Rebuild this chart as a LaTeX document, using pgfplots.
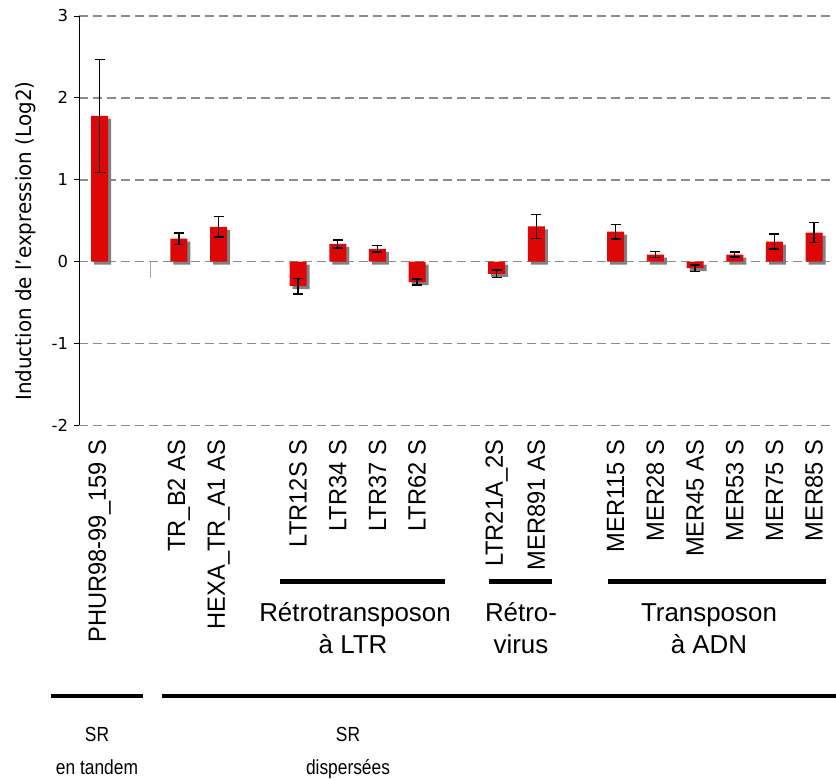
\documentclass[border=0pt]{standalone}
\usepackage{pgfplots}
\usepackage{pgfplotstable}
\pgfplotsset{compat=1.18}
\usepackage{fontspec}
\setmainfont{Liberation Sans}
\newfontfamily\dejavu{DejaVu Sans}
\newfontfamily\dejavucond[FakeStretch=0.95]{DejaVu Sans}
\newfontfamily\lbcond[FakeStretch=0.95]{Liberation Sans}
\newfontfamily\lbbot[FakeStretch=0.85]{Liberation Sans}
\definecolor{barred}{RGB}{222,6,6}
\definecolor{shadowgray}{RGB}{128,128,128}
\definecolor{gridgray}{RGB}{140,140,140}

\pgfplotstableread{
x y e
0 1.78 0.69
2 0.28 0.07
3 0.425 0.125
5 -0.30 0.095
6 0.215 0.05
7 0.155 0.04
8 -0.25 0.035
10 -0.15 0.045
11 0.43 0.145
13 0.365 0.09
14 0.085 0.035
15 -0.08 0.04
16 0.085 0.03
17 0.245 0.09
18 0.355 0.12
}\datatable

\begin{document}
\begin{tikzpicture}[x=1bp,y=1bp]
\path[use as bounding box] (0,0) rectangle (836,-780);
\begin{axis}[
  at={(79bp,-425.3bp)}, anchor=south west,
  scale only axis, width=755bp, height=409.3bp,
  xmin=-0.518, xmax=18.5, ymin=-2, ymax=3,
  ybar,
  axis lines*=left,
  x axis line style={draw=none},
  y axis line style={black, line width=1bp},
  ytick={-2,-1,0,1,2,3},
  ymajorgrids,
  grid style={gridgray, line width=1.6bp, dash pattern=on 9bp off 5bp},
  tick align=outside,
  major tick length=5bp,
  ytick style={black, line width=1bp},
  xtick style={draw=none},
  xtick={0,2,3,5,6,7,8,10,11,13,14,15,16,17,18},
  xticklabels={PHUR98-99\_159 S, TR\_B2 AS, HEXA\_TR\_A1 AS, LTR12S S, LTR34 S, LTR37 S, LTR62 S, LTR21A\_2S, MER891 AS, MER115 S, MER28 S, MER45 AS, MER53 S, MER75 S, MER85 S},
  xticklabel style={rotate=90, anchor=east, font=\lbcond\fontsize{25}{25}\selectfont},
  xticklabel shift=6bp,
  /pgf/number format/assume math mode=true,
  yticklabel style={font=\dejavu\fontsize{16.5}{16.5}\selectfont, xshift=-2.5bp},
  ylabel={Induction de l’expression (Log2)},
  ylabel style={font=\dejavucond\fontsize{21}{21}\selectfont, at={(axis description cs:-0.070,0.45)}, anchor=center},
]
\addplot[ybar, bar shift=0pt, bar width=17bp, fill=barred, draw=none,
  preaction={fill=shadowgray, transform canvas={shift={(3bp,-3bp)}}},
  error bars/.cd, y dir=both, y explicit,
  error bar style={black, line width=1.4bp},
  error mark options={rotate=90, black, mark size=5bp, line width=1.4bp}]
  table[x=x, y=y, y error=e] {\datatable};
\addplot[sharp plot, shadowgray!70, line width=1bp, forget plot] coordinates {(1.275,0) (1.275,-0.2)};
\end{axis}
% group lines
\draw[line width=5] (280,-581.5) -- (445,-581.5);
\draw[line width=5] (489,-581.5) -- (552,-581.5);
\draw[line width=5] (608,-581.5) -- (826,-581.5);
\draw[line width=5] (51,-696) -- (143,-696);
\draw[line width=5] (162,-696) -- (836,-696);
\begin{scope}[every node/.style={anchor=base, inner sep=0pt, font=\fontsize{26}{26}\selectfont}]
\node at (355,-621) {Rétrotransposon};
\node at (353,-653) {à LTR};
\node at (521,-621) {Rétro-};
\node at (521,-653) {virus};
\node at (709,-621) {Transposon};
\node at (709,-653) {à ADN};
\end{scope}
\begin{scope}[every node/.style={anchor=base, inner sep=0pt, font=\lbbot\fontsize{20.5}{20.5}\selectfont}]
\node at (97,-741) {SR};
\node at (97,-774) {en tandem};
\node at (348,-741) {SR};
\node at (348,-774) {dispersées};
\end{scope}
\end{tikzpicture}
\end{document}
